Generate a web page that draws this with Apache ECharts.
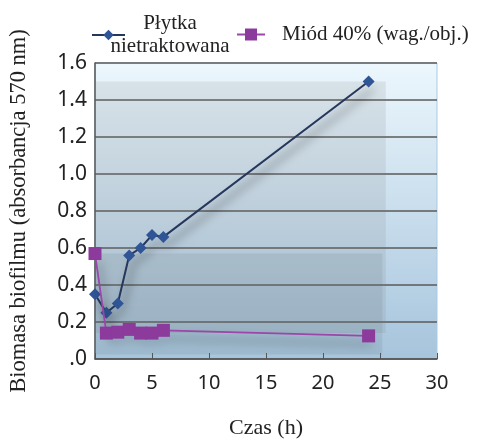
<!DOCTYPE html>
<html>
<head>
<meta charset="utf-8">
<script src="https://cdn.jsdelivr.net/npm/echarts@6/dist/echarts.min.js"></script>
<style>
  html, body { margin: 0; padding: 0; background: #fff; }
  #chart { width: 490px; height: 444px; }
</style>
</head>
<body>
<div id="chart"></div>
<script>
var hours = [0, 1, 2, 3, 4, 5, 6, 24]
var plytka = [0.35, 0.25, 0.30, 0.56, 0.60, 0.67, 0.66, 1.50]
var miod = [0.57, 0.14, 0.145, 0.16, 0.14, 0.14, 0.155, 0.125]
var yTickLabels = ['.0', '0.2', '0.4', '0.6', '0.8', '1.0', '1.2', '1.4', '1.6']
var seriesNames = ['Płytka nietraktowana', 'Miód 40% (wag./obj.)']

function pairs(ys) {
  return hours.map(function (h, i) { return [h, ys[i]] })
}

// shadow boxes behind each series (bounding box, offset a bit)
function shadowBox(ys, drop, extra) {
  return [
    { xAxis: 0, yAxis: Math.max.apply(null, ys) },
    { xAxis: Math.max.apply(null, hours) + extra, yAxis: Math.min.apply(null, ys) - drop }
  ]
}

var serif = '"Liberation Serif", "DejaVu Serif", serif'
var sans = '"Noto Sans", "Liberation Sans", sans-serif'

var chart = echarts.init(document.getElementById('chart'))
chart.setOption({
  animation: false,
  legend: [{
    data: [seriesNames[0]],
    left: 91,
    top: 13,
    padding: 0,
    itemWidth: 33,
    itemHeight: 13,
    formatter: function () {
      return '{a|Płytka}\n{a|nietraktowana}'
    },
    textStyle: {
      rich: {
        a: { fontFamily: serif, fontSize: 21, color: '#222', width: 80, align: 'center', lineHeight: 23 }
      }
    }
  }, {
    data: [seriesNames[1]],
    left: 236,
    top: 24,
    padding: 0,
    itemWidth: 28,
    itemHeight: 15,
    textStyle: {
      fontFamily: serif,
      fontSize: 21,
      color: '#222',
      padding: [0, 0, 0, 12]
    }
  }],
  grid: {
    left: 92,
    right: 53,
    top: 63,
    bottom: 85,
    show: true,
    borderColor: '#a9cbe4',
    borderWidth: 1,
    backgroundColor: {
      type: 'linear', x: 0, y: 0, x2: 0, y2: 1,
      colorStops: [
        { offset: 0, color: '#ecf7fd' },
        { offset: 1, color: '#a6c4dc' }
      ]
    }
  },
  xAxis: {
    type: 'value',
    min: 0,
    max: 30,
    interval: 5,
    name: 'Czas (h)',
    nameLocation: 'middle',
    nameGap: 58,
    nameTextStyle: { fontFamily: serif, fontSize: 22, color: '#222' },
    axisLine: { lineStyle: { color: '#555', width: 1.5 } },
    axisTick: { inside: true, length: 6, lineStyle: { color: '#555' } },
    axisLabel: { margin: 14, fontFamily: sans, fontSize: 20, color: '#222' },
    splitLine: { show: false }
  },
  yAxis: {
    type: 'value',
    min: 0,
    max: 1.6,
    interval: 0.2,
    name: 'Biomasa biofilmu (absorbancja 570 nm)',
    nameLocation: 'middle',
    nameGap: 64,
    nameTextStyle: { fontFamily: serif, fontSize: 22.5, color: '#222' },
    axisLine: { show: true, lineStyle: { color: '#555', width: 1.5 } },
    axisTick: { show: false },
    axisLabel: {
      margin: 8,
      fontFamily: sans,
      fontSize: 21,
      color: '#222',
      formatter: function (v) { return yTickLabels[Math.round(v / 0.2)] }
    },
    splitLine: { lineStyle: { color: '#5a5a5a', width: 1.5 } }
  },
  series: [{
    name: seriesNames[0],
    type: 'line',
    data: pairs(plytka),
    symbol: 'diamond',
    symbolSize: 12,
    z: 3,
    itemStyle: { color: '#2f5596' },
    lineStyle: {
      color: '#27375c',
      width: 2,
      shadowColor: 'rgba(0,0,0,0.6)',
      shadowBlur: 10,
      shadowOffsetX: 4,
      shadowOffsetY: 8
    },
    markArea: {
      silent: true,
      itemStyle: { color: 'rgba(120,120,120,0.14)' },
      data: [shadowBox(plytka, 0.11, 1.5)]
    }
  }, {
    name: seriesNames[1],
    type: 'line',
    data: pairs(miod),
    symbol: 'rect',
    symbolSize: 13,
    z: 4,
    itemStyle: { color: '#8c3a9c' },
    lineStyle: {
      color: '#9b46a8',
      width: 1.8,
      shadowColor: 'rgba(0,0,0,0.55)',
      shadowBlur: 10,
      shadowOffsetX: 4,
      shadowOffsetY: 8
    },
    markArea: {
      silent: true,
      itemStyle: { color: 'rgba(100,110,120,0.14)' },
      data: [shadowBox(miod, 0.1, 1.2)]
    }
  }]
})
</script>
</body>
</html>
